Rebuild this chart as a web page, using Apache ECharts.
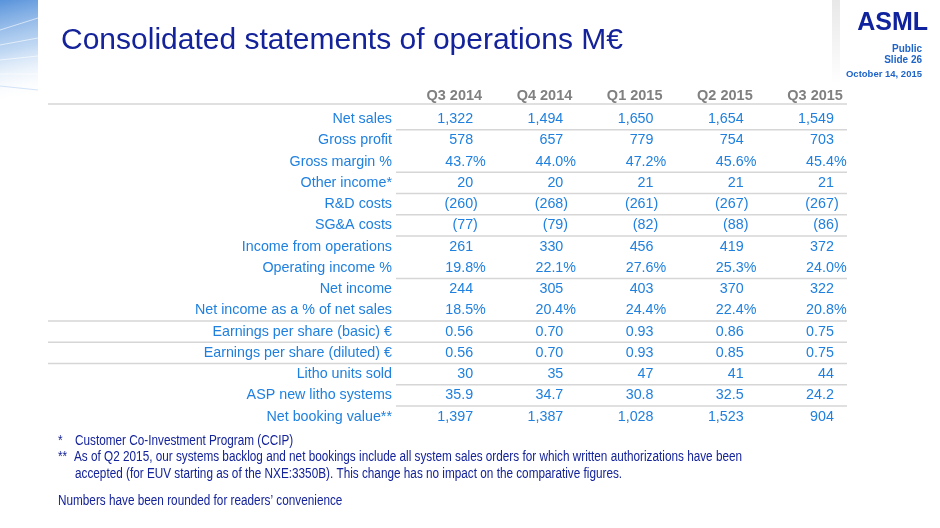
<!DOCTYPE html>
<html>
<head>
<meta charset="utf-8">
<script src="https://cdn.jsdelivr.net/npm/echarts@6/dist/echarts.min.js"></script>
<style>
  html, body { margin: 0; padding: 0; background: #fff; }
  #main { width: 940px; height: 528px; }
</style>
</head>
<body>
<div id="main"></div>
<script>
// column headers
const quarters = ['Q3 2014', 'Q4 2014', 'Q1 2015', 'Q2 2015', 'Q3 2015']

// row labels
const rowLabels = [
  'Net sales', 'Gross profit', 'Gross margin %', 'Other income*', 'R&D costs',
  'SG&A costs', 'Income from operations', 'Operating income %', 'Net income',
  'Net income as a % of net sales', 'Earnings per share (basic) €',
  'Earnings per share (diluted) €', 'Litho units sold', 'ASP new litho systems',
  'Net booking value**'
]

// values per row (M€ unless noted)
const netSales = [1322, 1494, 1650, 1654, 1549]
const grossProfit = [578, 657, 779, 754, 703]
const grossMargin = [43.7, 44.0, 47.2, 45.6, 45.4]
const otherIncome = [20, 20, 21, 21, 21]
const rdCosts = [-260, -268, -261, -267, -267]
const sgaCosts = [-77, -79, -82, -88, -86]
const incomeFromOps = [261, 330, 456, 419, 372]
const opIncomePct = [19.8, 22.1, 27.6, 25.3, 24.0]
const netIncome = [244, 305, 403, 370, 322]
const netIncomePct = [18.5, 20.4, 24.4, 22.4, 20.8]
const epsBasic = [0.56, 0.70, 0.93, 0.86, 0.75]
const epsDiluted = [0.56, 0.70, 0.93, 0.85, 0.75]
const lithoUnits = [30, 35, 47, 41, 44]
const aspLitho = [35.9, 34.7, 30.8, 32.5, 24.2]
const netBookings = [1397, 1387, 1028, 1523, 904]

// footnotes
const footnotes = [
  ['*', 'Customer Co-Investment Program (CCIP)'],
  ['**', 'As of Q2 2015, our systems backlog and net bookings include all system sales orders for which written authorizations have been'],
  ['', 'accepted (for EUV starting as of the NXE:3350B). This change has no impact on the comparative figures.']
]
const roundingNote = 'Numbers have been rounded for readers’ convenience'

// number formats -> [digits, hanging suffix]
const fmtInt = v => v < 0
  ? ['(' + Math.abs(v).toLocaleString('en-US'), ')']
  : [v.toLocaleString('en-US'), '']
const fmtPct = v => [v.toFixed(1), '%']
const fmt1 = v => [v.toFixed(1), '']
const fmt2 = v => [v.toFixed(2), '']

const rows = [
  [netSales, fmtInt], [grossProfit, fmtInt], [grossMargin, fmtPct],
  [otherIncome, fmtInt], [rdCosts, fmtInt], [sgaCosts, fmtInt],
  [incomeFromOps, fmtInt], [opIncomePct, fmtPct], [netIncome, fmtInt],
  [netIncomePct, fmtPct], [epsBasic, fmt2], [epsDiluted, fmt2],
  [lithoUnits, fmtInt], [aspLitho, fmt1], [netBookings, fmtInt]
]

// rules under rows: 'part' = value columns only, 'full' = across labels too
const rules = [
  [0, 'head'], [0, 'part'], [2, 'part'], [3, 'part'], [4, 'part'], [5, 'part'],
  [7, 'part'], [9, 'full'], [10, 'full'], [11, 'full'], [12, 'part'], [13, 'part']
]

const cells = []
rows.forEach((row, r) => {
  row[0].forEach((v, c) => {
    const t = row[1](v)
    cells.push({ value: [c, r], main: t[0], suffix: t[1] })
  })
})

const FONT = '"Liberation Sans", Arial, sans-serif'
const BLUE = '#1f80df'
const NAVY = '#14239a'
const RULE = '#d6d6d6'

// narrow-looking footnote text (Arial Narrow in the slide)
const noteText = (x, y, text) => ({
  type: 'text', x: x, y: y, scaleX: 0.84, silent: true,
  style: { text: text, fill: NAVY, fontSize: 14, fontFamily: FONT, verticalAlign: 'middle' }
})

const noteGraphics = []
footnotes.forEach((f, i) => {
  const y = 441 + i * 16.5
  if (f[0]) noteGraphics.push(noteText(58, y, f[0]))
  noteGraphics.push(noteText(f[0] === '**' ? 74 : 75, y, f[1]))
})
noteGraphics.push(noteText(58, 501, roundingNote))

const myChart = echarts.init(document.getElementById('main'), null, { renderer: 'canvas' })

myChart.setOption({
  animation: false,
  backgroundColor: '#fff',
  grid: { left: 396, right: 93, top: 108.5, bottom: 100.75 },
  xAxis: {
    type: 'category',
    position: 'top',
    data: quarters,
    axisLine: { show: false },
    axisTick: { show: false },
    splitLine: { show: false },
    axisLabel: {
      margin: 5,
      align: 'center',
      formatter: '{h|{value}}',
      rich: {
        h: { width: 82, align: 'right', color: '#808080', fontWeight: 'bold', fontSize: 14.5, fontFamily: FONT, lineHeight: 15 }
      }
    }
  },
  yAxis: {
    type: 'category',
    inverse: true,
    data: rowLabels,
    axisLine: { show: false },
    axisTick: { show: false },
    splitLine: { show: false },
    axisLabel: { margin: 4, color: BLUE, fontSize: 14.3, fontFamily: FONT }
  },
  series: [
    {
      // rules
      type: 'custom',
      silent: true,
      data: rules.map(d => [0, d[0]]),
      encode: { x: 0, y: 1 },
      renderItem: (params, api) => {
        const kind = rules[params.dataIndex][1]
        const p = api.coord([0, api.value(1)])
        const h = api.size([0, 1])[1]
        const cs = params.coordSys
        const y = kind === 'head' ? p[1] - h / 2 - 4.5 : p[1] + h / 2
        const x1 = kind === 'part' ? cs.x : 48
        return {
          type: 'line',
          shape: { x1: x1, y1: y, x2: cs.x + cs.width, y2: y },
          style: { stroke: RULE, lineWidth: 1.6 }
        }
      }
    },
    {
      // cell values, digits right aligned, suffix hanging
      type: 'custom',
      silent: true,
      data: cells.map(d => d.value),
      encode: { x: 0, y: 1 },
      renderItem: (params, api) => {
        const d = cells[params.dataIndex]
        const p = api.coord([api.value(0), api.value(1)])
        const x = p[0] + 32
        const st = { fill: BLUE, fontSize: 14.3, fontFamily: FONT, verticalAlign: 'middle' }
        return {
          type: 'group',
          children: [
            { type: 'text', x: x, y: p[1], style: Object.assign({ text: d.main, align: 'right' }, st) },
            { type: 'text', x: x, y: p[1], style: Object.assign({ text: d.suffix, align: 'left' }, st) }
          ]
        }
      }
    }
  ],
  graphic: [
    // corner decoration
    {
      type: 'rect', left: 0, top: 0, silent: true,
      shape: { width: 38, height: 100 },
      style: {
        fill: new echarts.graphic.LinearGradient(0, 0, 0.6, 1, [
          { offset: 0, color: 'rgba(70,135,215,0.9)' },
          { offset: 0.5, color: 'rgba(150,190,235,0.6)' },
          { offset: 1, color: 'rgba(255,255,255,0)' }
        ])
      }
    },
    { type: 'line', silent: true, shape: { x1: 0, y1: 30, x2: 38, y2: 18 }, style: { stroke: 'rgba(255,255,255,0.6)', lineWidth: 1 } },
    { type: 'line', silent: true, shape: { x1: 0, y1: 45, x2: 38, y2: 38 }, style: { stroke: 'rgba(255,255,255,0.6)', lineWidth: 1 } },
    { type: 'line', silent: true, shape: { x1: 0, y1: 60, x2: 38, y2: 56 }, style: { stroke: 'rgba(255,255,255,0.6)', lineWidth: 1 } },
    { type: 'line', silent: true, shape: { x1: 0, y1: 74, x2: 38, y2: 74 }, style: { stroke: 'rgba(255,255,255,0.6)', lineWidth: 1 } },
    { type: 'line', silent: true, shape: { x1: 0, y1: 86, x2: 38, y2: 90 }, style: { stroke: 'rgba(200,220,245,0.8)', lineWidth: 1 } },
    // panel shadow
    {
      type: 'rect', left: 832, top: 0, silent: true,
      shape: { width: 8, height: 85 },
      style: {
        fill: new echarts.graphic.LinearGradient(0, 0, 0, 1, [
          { offset: 0, color: 'rgba(0,0,0,0.09)' },
          { offset: 1, color: 'rgba(0,0,0,0)' }
        ])
      }
    },
    // title
    {
      type: 'text', x: 61, y: 40.5, silent: true,
      style: { text: 'Consolidated statements of operations M€', fill: NAVY, fontSize: 30, fontFamily: FONT, verticalAlign: 'middle' }
    },
    // logo and slide info
    {
      type: 'text', x: 928, y: 23, silent: true,
      style: { text: 'ASML', fill: '#10239e', fontSize: 25, fontWeight: 'bold', fontFamily: FONT, align: 'right', verticalAlign: 'middle' }
    },
    {
      type: 'text', x: 922, y: 49, silent: true,
      style: { text: 'Public', fill: '#1e64c8', fontSize: 10, fontWeight: 'bold', fontFamily: FONT, align: 'right', verticalAlign: 'middle' }
    },
    {
      type: 'text', x: 922, y: 60, silent: true,
      style: { text: 'Slide 26', fill: '#1e64c8', fontSize: 10, fontWeight: 'bold', fontFamily: FONT, align: 'right', verticalAlign: 'middle' }
    },
    {
      type: 'text', x: 922, y: 74, silent: true,
      style: { text: 'October 14, 2015', fill: '#1e64c8', fontSize: 9.5, fontWeight: 'bold', fontFamily: FONT, align: 'right', verticalAlign: 'middle' }
    }
  ].concat(noteGraphics)
})
</script>
</body>
</html>
